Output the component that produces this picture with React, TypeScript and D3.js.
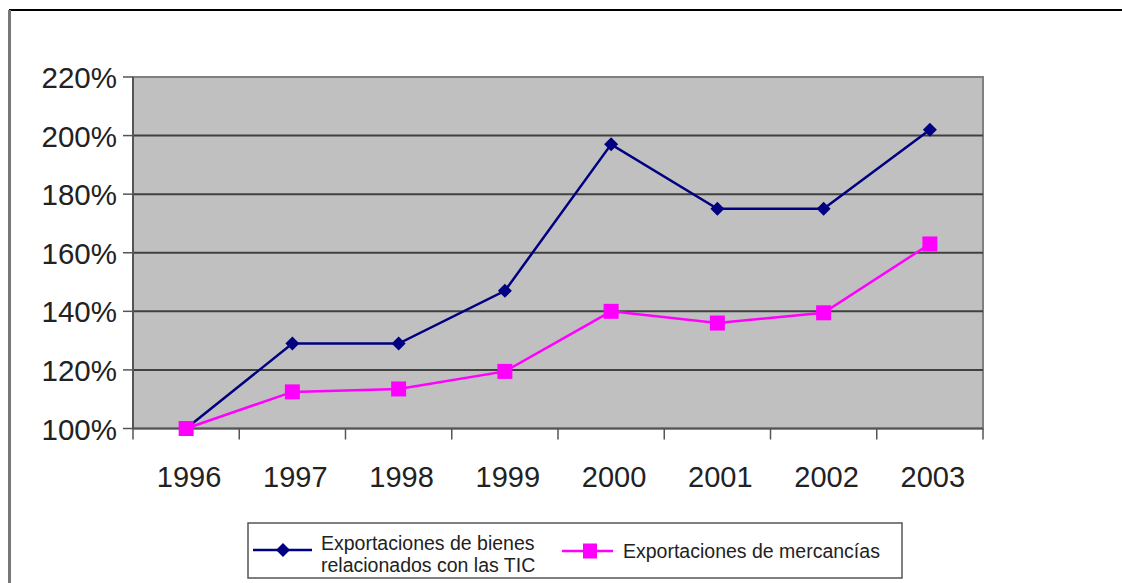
import React from "react";
import * as d3 from "d3";

const years = ["1996", "1997", "1998", "1999", "2000", "2001", "2002", "2003"];
const ticValues = [100, 129, 129, 147, 197, 175, 175, 202];
const mercValues = [100, 112.5, 113.5, 119.5, 140, 136, 139.5, 163];
const yTicks = [100, 120, 140, 160, 180, 200, 220];
const legendTic = ["Exportaciones de bienes", "relacionados con las TIC"];
const legendMerc = "Exportaciones de mercancías";

const W = 1122;
const H = 583;
const plot = { left: 133, right: 983, top: 77, bottom: 428.5 };
const FONT = "'Liberation Sans', Arial, sans-serif";
const BLUE = "#000080";
const PINK = "#FF00FF";

export default function App() {
  const x = d3.scaleBand<string>().domain(years).range([plot.left, plot.right]).padding(0);
  const y = d3.scaleLinear().domain([100, 220]).range([plot.bottom, plot.top]);
  const cx = (d: string) => (x(d) as number) + x.bandwidth() / 2;

  const line = d3
    .line<number>()
    .x((_, i) => cx(years[i]))
    .y((v) => y(v));

  const diamond = (px: number, py: number, r: number) =>
    `M${px},${py - r}L${px + r},${py}L${px},${py + r}L${px - r},${py}Z`;

  const boundaries = years.map((d) => x(d) as number).concat([plot.right]);

  return (
    <svg
      width={W}
      height={H}
      style={{ position: "absolute", left: 0, top: 0, background: "#fff" }}
      fontFamily={FONT}
    >
      {/* outer frame */}
      <line x1={9} x2={W} y1={10} y2={10} stroke="#000" strokeWidth={2} />
      <line x1={9.5} x2={9.5} y1={10} y2={H} stroke="#777" strokeWidth={3} />

      {/* plot area */}
      <rect
        x={plot.left}
        y={plot.top}
        width={plot.right - plot.left}
        height={plot.bottom - plot.top}
        fill="#C0C0C0"
        stroke="#808080"
        strokeWidth={2}
      />
      {yTicks.map((t) => (
        <g key={t}>
          {t > 100 && t < 220 && (
            <line x1={plot.left} x2={plot.right} y1={y(t)} y2={y(t)} stroke="#404040" strokeWidth={2} />
          )}
          <line x1={123} x2={plot.left} y1={y(t)} y2={y(t)} stroke="#555" strokeWidth={1.5} />
          <text x={117} y={y(t) + 11} textAnchor="end" fontSize={29.5} fill="#222">
            {t}%
          </text>
        </g>
      ))}
      {/* axes */}
      <line x1={plot.left} x2={plot.left} y1={plot.top} y2={plot.bottom} stroke="#555" strokeWidth={2} />
      <line x1={plot.left} x2={plot.right} y1={plot.bottom} y2={plot.bottom} stroke="#555" strokeWidth={2} />
      {boundaries.map((b, i) => (
        <line key={i} x1={b} x2={b} y1={plot.bottom} y2={plot.bottom + 11} stroke="#555" strokeWidth={1.5} />
      ))}
      {years.map((d) => (
        <text key={d} x={cx(d) + 3} y={487} textAnchor="middle" fontSize={29} fill="#222">
          {d}
        </text>
      ))}

      {/* series */}
      <path d={line(mercValues) as string} fill="none" stroke={PINK} strokeWidth={2.5} />
      <path d={line(ticValues) as string} fill="none" stroke={BLUE} strokeWidth={2.5} />
      {ticValues.map((v, i) => (
        <path key={"t" + i} d={diamond(cx(years[i]), y(v), 7)} fill={BLUE} />
      ))}
      {mercValues.map((v, i) => (
        <rect key={"m" + i} x={cx(years[i]) - 7.5} y={y(v) - 7.5} width={15} height={15} fill={PINK} />
      ))}

      {/* legend */}
      <rect x={248} y={523} width={654} height={55} fill="#fff" stroke="#555" strokeWidth={1.5} />
      <line x1={253} x2={312} y1={550} y2={550} stroke={BLUE} strokeWidth={2.5} />
      <path d={diamond(283, 550, 7)} fill={BLUE} />
      <text x={321} y={550} fontSize={19.5} fill="#222">
        {legendTic[0]}
      </text>
      <text x={321} y={572} fontSize={19.5} fill="#222">
        {legendTic[1]}
      </text>
      <line x1={562} x2={613} y1={551} y2={551} stroke={PINK} strokeWidth={2.5} />
      <rect x={583} y={543.5} width={14} height={15} fill={PINK} />
      <text x={623} y={558} fontSize={19.5} fill="#222">
        {legendMerc}
      </text>
    </svg>
  );
}
